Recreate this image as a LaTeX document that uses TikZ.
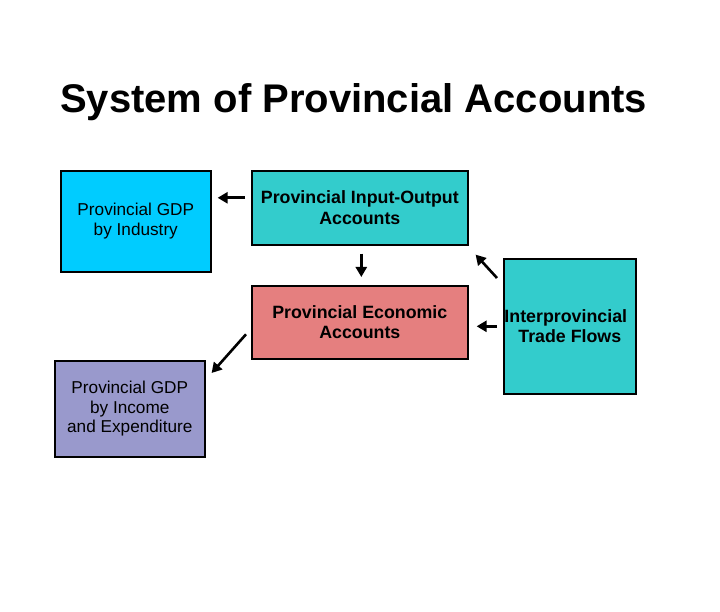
\documentclass[tikz,border=0pt]{standalone}
\usepackage{fontspec}
\setmainfont{Liberation Sans}
\usetikzlibrary{arrows.meta, positioning}
\definecolor{indblue}{HTML}{00CCFF}
\definecolor{ioteal}{HTML}{33CCCC}
\definecolor{econred}{HTML}{E57F7F}
\definecolor{incpurple}{HTML}{9999CC}

\tikzset{
  acctbox/.style={draw=black, line width=1.6pt, inner sep=0pt, anchor=north west, align=center, font=\fontsize{17.2}{19.5}\selectfont},
  boldbox/.style={acctbox, font=\fontsize{17.8}{20.5}\selectfont\bfseries},
  arr/.style={-{Triangle[length=10pt,width=11pt]}, line width=2.6pt}
}

\begin{document}
\begin{tikzpicture}[x=1pt, y=-1pt]
\useasboundingbox[fill=white] (0,0) rectangle (720,612);

% Title
\node[anchor=base west, font=\fontsize{40}{48}\selectfont\bfseries, inner sep=0pt] (title) at (60,113) {System of Provincial Accounts};

% Boxes
\node[acctbox, fill=indblue, minimum width=150pt, minimum height=101pt] (ind) at (60,170) {Provincial GDP\\by Industry};
\node[boldbox, fill=ioteal, minimum width=216pt, minimum height=74pt] (io) at (251,170) {Provincial Input-Output\\Accounts};
\node[boldbox, fill=econred, minimum width=216pt, minimum height=73pt] (econ) at (251,285) {Provincial Economic\\Accounts};
\node[boldbox, fill=ioteal, minimum width=132pt, minimum height=135pt] (trade) at (503,258) {\hspace*{-8pt}Interprovincial\\Trade Flows};
\node[acctbox, fill=incpurple, minimum width=150pt, minimum height=96pt] (inc) at (54,360) {Provincial GDP\\by Income\\and Expenditure};

% Connectors
\draw[arr, shorten <=6pt, shorten >=6pt] ([yshift=10pt]io.west) -- ([yshift=10pt]io.west -| ind.east);
\draw[arr] ([xshift=1.5pt,yshift=-8pt]io.south) -- ([xshift=1.5pt,yshift=8pt]io.south |- econ.north);
\draw[arr] ([xshift=-6pt,yshift=-20pt]trade.north west) -- ([xshift=7pt,yshift=-9pt]io.south east);
\draw[arr, shorten <=6pt, shorten >=8pt] (trade.west) -- (trade.west -| econ.east);
\draw[arr] ([xshift=-5pt,yshift=-12pt]econ.west) -- ([xshift=6pt,yshift=-13pt]inc.north east);
\end{tikzpicture}
\end{document}
